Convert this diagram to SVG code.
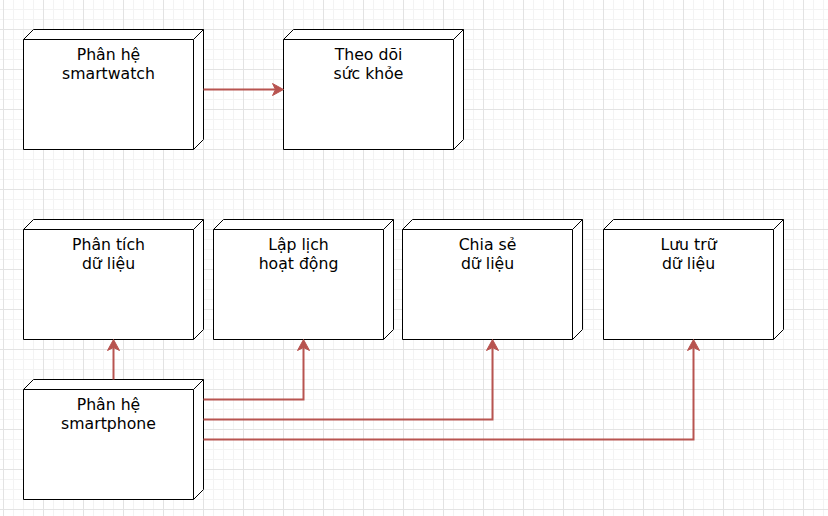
<svg xmlns="http://www.w3.org/2000/svg" xmlns:xlink="http://www.w3.org/1999/xlink" width="828" height="516" viewBox="0 0 828 516">
<defs>
<pattern id="grid" x="3" y="29" width="40" height="40" patternUnits="userSpaceOnUse">
<path d="M10.5 0V40M20.5 0V40M30.5 0V40M0 10.5H40M0 20.5H40M0 30.5H40" stroke="#f3f3f3" stroke-width="1" fill="none"/>
<path d="M0.5 0V40M0 0.5H40" stroke="#e3e3e3" stroke-width="1" fill="none"/>
</pattern>
<marker id="arr" markerUnits="userSpaceOnUse" markerWidth="14" markerHeight="14" viewBox="-1 -7 14 14" refX="7" refY="0" orient="auto">
<path d="M11 0L0 -6L3 0L0 6Z" fill="#b85450" stroke="#b85450" stroke-width="1" stroke-linejoin="miter"/>
</marker>
<g id="box">
<path d="M0 10L10 0H180V110L170 120H0Z" fill="#ffffff" stroke="#000000" stroke-width="1"/>
<path d="M0 10H170V120M170 10L180 0" fill="none" stroke="#000000" stroke-width="1"/>
</g>
</defs>
<style>
.lbl{font-family:"DejaVu Sans","Noto Sans",sans-serif;font-size:15.7px;fill:#000000;text-anchor:middle}
.conn{fill:none;stroke:#b85450;stroke-width:2;marker-end:url(#arr)}
</style>
<rect x="0" y="0" width="828" height="516" fill="#ffffff"/>
<rect x="0" y="0" width="828" height="516" fill="url(#grid)"/>
<g id="node-smartwatch" transform="translate(23.5,29.5)">
<use xlink:href="#box"/>
<text class="lbl" x="85" y="30.5">Phân hệ</text>
<text class="lbl" x="85" y="49.5">smartwatch</text>
</g>
<g id="node-theodoi" transform="translate(283.5,29.5)">
<use xlink:href="#box"/>
<text class="lbl" x="85" y="30.5">Theo dõi</text>
<text class="lbl" x="85" y="49.5">sức khỏe</text>
</g>
<g id="node-phantich" transform="translate(23.5,219.5)">
<use xlink:href="#box"/>
<text class="lbl" x="85" y="30.5">Phân tích</text>
<text class="lbl" x="85" y="49.5">dữ liệu</text>
</g>
<g id="node-laplich" transform="translate(213.5,219.5)">
<use xlink:href="#box"/>
<text class="lbl" x="85" y="30.5">Lập lịch</text>
<text class="lbl" x="85" y="49.5">hoạt động</text>
</g>
<g id="node-chiase" transform="translate(402.5,219.5)">
<use xlink:href="#box"/>
<text class="lbl" x="85" y="30.5">Chia sẻ</text>
<text class="lbl" x="85" y="49.5">dữ liệu</text>
</g>
<g id="node-luutru" transform="translate(603.5,219.5)">
<use xlink:href="#box"/>
<text class="lbl" x="85" y="30.5">Lưu trữ</text>
<text class="lbl" x="85" y="49.5">dữ liệu</text>
</g>
<g id="node-smartphone" transform="translate(23.5,379.5)">
<use xlink:href="#box"/>
<text class="lbl" x="85" y="30.5">Phân hệ</text>
<text class="lbl" x="85" y="49.5">smartphone</text>
</g>
<g id="connectors">
<path class="conn" d="M203.5 89.5H279.5"/>
<path class="conn" d="M113.5 379.5V343.5"/>
<path class="conn" d="M203.5 399.5H303.5V343.5"/>
<path class="conn" d="M203.5 419.5H492.5V343.5"/>
<path class="conn" d="M203.5 439.5H693.5V343.5"/>
</g>
</svg>
